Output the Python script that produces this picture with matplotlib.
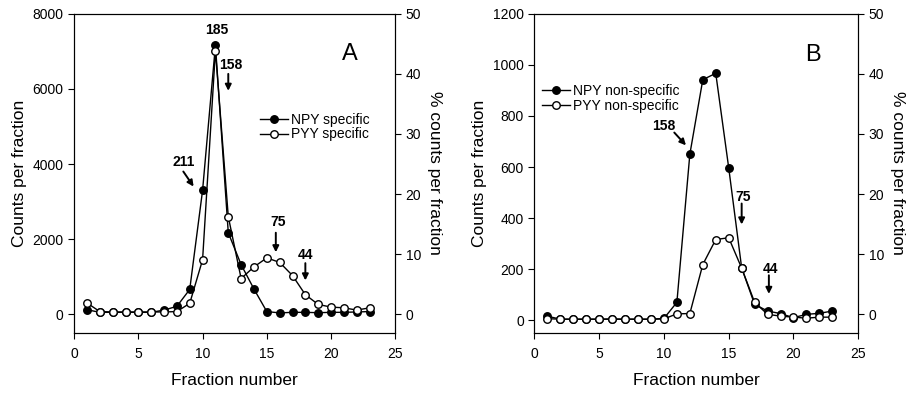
import numpy as np
import matplotlib
matplotlib.use("Agg")
import matplotlib.pyplot as plt

plt.rcParams['font.family'] = ['Liberation Sans', 'DejaVu Sans']

fractions = np.arange(1, 24)

# panel A, counts per fraction
npy_specific = [120, 50, 50, 50, 50, 50, 110, 210, 660, 3300, 7160, 2170, 1320, 670,
                70, 35, 50, 50, 40, 50, 50, 60, 70]
pyy_specific = [300, 70, 60, 60, 60, 60, 60, 70, 290, 1450, 7020, 2600, 950, 1260,
                1500, 1380, 1030, 520, 260, 190, 170, 110, 170]

# panel B, counts per fraction
npy_nonspec = [16, 4, 4, 4, 4, 5, 4, 4, 4, 7, 70, 650, 942, 967,
               597, 205, 62, 36, 26, 10, 23, 27, 36]
pyy_nonspec = [6, 4, 4, 4, 4, 4, 4, 4, 4, 5, 25, 26, 218, 316,
               323, 204, 70, 23, 16, 12, 8, 12, 12]

# size markers (label, text x, text y, arrow tail x, y, arrow head x, y)
markers_a = [("211", 8.5, 4050, 8.5, 3800, 9.3, 3400),
             ("158", 12.2, 6650, 12.0, 6400, 12.0, 5950),
             ("75", 15.9, 2450, 15.7, 2170, 15.7, 1650),
             ("44", 18.0, 1570, 18.0, 1360, 18.0, 900)]
markers_b = [("158", 10.0, 762, 10.8, 735, 11.7, 685),
             ("75", 16.15, 484, 16.0, 457, 16.0, 375),
             ("44", 18.25, 199, 18.1, 176, 18.1, 103)]


def draw_panel(ax, npy, pyy, labels, ylim, yticks, letter, letter_y, arrows, legend_loc):
    ax.plot(fractions, npy, '-o', color='black', mfc='black', mec='black',
            ms=5.4, lw=1, label=labels[0], zorder=3)
    ax.plot(fractions, pyy, '-o', color='black', mfc='white', mec='black',
            ms=5.4, lw=1, label=labels[1], zorder=4)
    ax.set_xlim(0, 25)
    ax.set_xticks(range(0, 26, 5))
    ax.set_ylim(*ylim)
    ax.set_yticks(yticks)
    ax.set_xlabel('Fraction number', fontsize=12.5, labelpad=9)
    ax.set_ylabel('Counts per fraction', fontsize=12.5, labelpad=4)
    ax.tick_params(labelsize=10, direction='out', length=4)
    ax.tick_params(axis='x', pad=6)
    for lab, tx, ty, ax0, ay0, ax1, ay1 in arrows:
        ax.text(tx, ty, lab, fontsize=10, fontweight='bold', ha='center', va='center')
        ax.annotate('', xy=(ax1, ay1), xytext=(ax0, ay0),
                    arrowprops=dict(arrowstyle='-|>', color='black', lw=1.4,
                                    mutation_scale=9, shrinkA=0, shrinkB=0))
    ax.text(21.5, letter_y, letter, fontsize=17, ha='center', va='center')
    ax.legend(frameon=False, fontsize=10, loc='upper left', bbox_to_anchor=legend_loc,
              handlelength=2.0, handletextpad=0.2, labelspacing=0.05, borderaxespad=0,
              borderpad=0)

    ax2 = ax.twinx()
    ax2.set_ylim(-3.125, 50)
    ax2.set_yticks(range(0, 51, 10))
    ax2.tick_params(labelsize=10, direction='out', length=4)
    ax2.set_ylabel('% counts per fraction', fontsize=12.5, rotation=270, labelpad=15)
    return ax2


fig = plt.figure(figsize=(9.15, 3.95), dpi=100)
ax_a = fig.add_axes([0.081, 0.157, 0.351, 0.808])
ax_b = fig.add_axes([0.584, 0.157, 0.354, 0.808])

draw_panel(ax_a, npy_specific, pyy_specific, ['NPY specific', 'PYY specific'],
           (-500, 8000), range(0, 8001, 2000), 'A', 6930, markers_a, (0.58, 0.69))
ax_a.text(11.1, 7570, '185', fontsize=10, fontweight='bold', ha='center', va='center')

draw_panel(ax_b, npy_nonspec, pyy_nonspec, ['NPY non-specific', 'PYY non-specific'],
           (-50, 1200), range(0, 1201, 200), 'B', 1039, markers_b, (0.025, 0.78))

fig.savefig('out.png', dpi=100)
